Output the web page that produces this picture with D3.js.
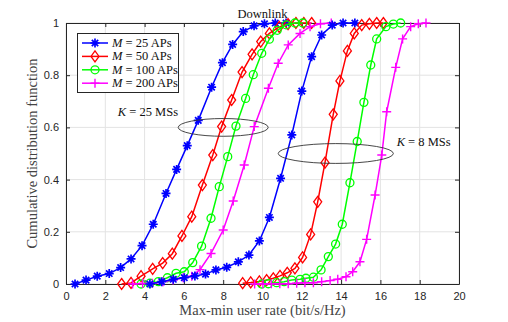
<!DOCTYPE html>
<html><head><meta charset="utf-8">
<script src="https://cdn.jsdelivr.net/npm/d3@7"></script>
<style>
body{margin:0;background:#fff;}
svg{display:block;}
</style></head>
<body>
<svg id="c" width="508" height="322"></svg>
<script>
// ---- data ----
const xTicks = [0,2,4,6,8,10,12,14,16,18,20];
const yTicks = [0,0.2,0.4,0.6,0.8,1];
const yTickLabels = ["0","0.2","0.4","0.6","0.8","1"];
const seriesM = ["25","50","100","200"];
const colors = ["#0000ff","#ff0000","#00ff00","#ff00ff"];
const markers = ["asterisk","diamond","circle","plus"];

// K = 25 MSs
const k25_m25_x = [0.46,1.02,1.59,2.2,2.78,3.31,3.87,4.44,5.09,5.63,6.17,6.73,7.41,7.96,8.48,9.02,9.57,10.1,10.65,11.2];
const k25_m25_y = [0,0.015,0.03,0.04,0.063,0.096,0.147,0.229,0.347,0.439,0.53,0.627,0.754,0.848,0.918,0.967,0.989,0.997,1,1];
const k25_m50_x = [2.83,3.31,3.82,4.41,4.92,5.41,5.9,6.4,6.94,7.47,7.92,8.43,8.96,9.47,9.91,10.35,10.85,11.3,11.7,12.1,12.5];
const k25_m50_y = [0,0.004,0.03,0.058,0.08,0.116,0.184,0.258,0.379,0.494,0.603,0.705,0.812,0.88,0.929,0.96,0.985,0.996,1,1,1];
const k25_m100_x = [3.82,4.27,4.7,5.16,5.6,6.02,6.45,6.9,7.38,7.8,8.23,8.65,9.14,9.53,9.96,10.35,10.75,11.2,11.65,12.05];
const k25_m100_y = [0,0.003,0.009,0.024,0.041,0.047,0.082,0.145,0.252,0.373,0.488,0.605,0.711,0.802,0.884,0.938,0.972,0.993,1,1];
const k25_m200_x = [3.39,3.9,4.4,4.94,5.45,5.96,6.4,6.82,7.38,8.0,8.51,9.07,9.58,10.3,10.8,11.31,11.91,12.42,12.95,13.5];
const k25_m200_y = [0,0.002,0.003,0.009,0.015,0.024,0.03,0.055,0.117,0.207,0.318,0.456,0.603,0.75,0.846,0.916,0.96,0.986,0.997,1];

// K = 8 MSs
const k8_m25_x = [4.27,4.87,5.46,6.02,6.56,7.1,7.63,8.18,8.77,9.31,9.84,10.35,10.92,11.49,12.0,12.5,13.01,13.55,14.1,14.7];
const k8_m25_y = [0,0.009,0.018,0.024,0.031,0.038,0.054,0.064,0.085,0.111,0.165,0.255,0.405,0.571,0.739,0.871,0.954,0.992,1,1];
const k8_m50_x = [8.99,9.4,9.84,10.21,10.55,10.89,11.26,11.65,12.04,12.45,12.81,13.18,13.6,13.94,14.32,14.67,15.05,15.44,15.81,16.15];
const k8_m50_y = [0.003,0.006,0.01,0.015,0.022,0.031,0.043,0.06,0.102,0.19,0.315,0.465,0.65,0.778,0.893,0.96,0.992,0.997,1,1];
const k8_m100_x = [9.96,10.3,10.72,11.1,11.49,11.91,12.21,12.59,12.98,13.35,13.72,14.06,14.45,14.82,15.16,15.51,15.81,16.28,16.66,17.03];
const k8_m100_y = [0,0.001,0.005,0.009,0.015,0.018,0.022,0.026,0.054,0.105,0.153,0.229,0.388,0.546,0.696,0.839,0.939,0.986,0.996,1];
const k8_m200_x = [9.6,10.02,10.45,10.88,11.31,11.74,12.16,12.59,13.01,13.44,13.83,14.25,14.59,14.96,15.3,15.73,16.07,16.32,16.78,17.13,17.54,17.93,18.32];
const k8_m200_y = [0,0,0.001,0.001,0.001,0.003,0.005,0.005,0.009,0.013,0.018,0.028,0.047,0.085,0.171,0.341,0.494,0.66,0.83,0.939,0.986,0.997,1];

const curves = [
  {x:k25_m25_x, y:k25_m25_y, s:0},{x:k25_m50_x, y:k25_m50_y, s:1},
  {x:k25_m100_x, y:k25_m100_y, s:2},{x:k25_m200_x, y:k25_m200_y, s:3},
  {x:k8_m25_x, y:k8_m25_y, s:0},{x:k8_m50_x, y:k8_m50_y, s:1},
  {x:k8_m100_x, y:k8_m100_y, s:2},{x:k8_m200_x, y:k8_m200_y, s:3}
];
// ellipses: [cx, cy, rx, ry] in data units
const ellipseK25 = [8.0, 0.6, 2.29, 0.034];
const ellipseK8 = [13.73, 0.5, 2.93, 0.038];
const labelK25 = {k:"K", rest:" = 25 MSs", x:4.17, y:0.643};
const labelK8 = {k:"K", rest:" = 8 MSs", x:18.2, y:0.527};

// ---- layout ----
const L=66, R=459, T=23, B=284;
const serif = "'Liberation Serif','DejaVu Serif',serif";
const sans = "'Liberation Sans',Arial,sans-serif";
const axisCol = "#262626";
const svg = d3.select("#c");
const x = d3.scaleLinear().domain([0,20]).range([L,R]);
const y = d3.scaleLinear().domain([0,1]).range([B,T]);

// grid
const g = svg.append("g");
g.selectAll(".gx").data(xTicks).join("line")
  .attr("x1",d=>x(d)).attr("x2",d=>x(d)).attr("y1",T).attr("y2",B)
  .attr("stroke","#e3e3e3").attr("stroke-width",1);
g.selectAll(".gy").data(yTicks).join("line")
  .attr("y1",d=>y(d)).attr("y2",d=>y(d)).attr("x1",L).attr("x2",R)
  .attr("stroke","#e3e3e3").attr("stroke-width",1);

// axes
const xAxis = d3.axisBottom(x).tickValues(xTicks).tickSizeInner(-4).tickSizeOuter(0).tickPadding(8);
const yAxis = d3.axisLeft(y).tickValues(yTicks).tickFormat((d,i)=>yTickLabels[i]).tickSizeInner(-4).tickSizeOuter(0).tickPadding(7);
const gx = svg.append("g").attr("transform",`translate(0,${B})`).call(xAxis);
const gy = svg.append("g").attr("transform",`translate(${L},0)`).call(yAxis);
const gxT = svg.append("g").attr("transform",`translate(0,${T})`).call(d3.axisTop(x).tickValues(xTicks).tickSizeInner(-4).tickSizeOuter(0).tickFormat(""));
const gyR = svg.append("g").attr("transform",`translate(${R},0)`).call(d3.axisRight(y).tickValues(yTicks).tickSizeInner(-4).tickSizeOuter(0).tickFormat(""));
[gx,gy,gxT,gyR].forEach(a=>{
  a.select(".domain").attr("stroke",axisCol).attr("stroke-width",1);
  a.selectAll(".tick line").attr("stroke",axisCol);
  a.selectAll("text").attr("fill",axisCol).attr("font-family",sans).attr("font-size",11);
});

// marker drawing
function drawMarker(sel, type, color){
  if(type==="circle"){
    sel.append("circle").attr("r",4).attr("fill","none").attr("stroke",color).attr("stroke-width",1.3);
  } else if(type==="diamond"){
    sel.append("path").attr("d","M0,-5.5L4,0L0,5.5L-4,0Z").attr("fill","none").attr("stroke",color).attr("stroke-width",1.3);
  } else if(type==="plus"){
    sel.append("path").attr("d","M-4.5,0H4.5M0,-4.5V4.5").attr("stroke",color).attr("stroke-width",1.4);
  } else {
    sel.append("path").attr("d","M-4.5,0H4.5M0,-4.5V4.5M-3.2,-3.2L3.2,3.2M-3.2,3.2L3.2,-3.2").attr("stroke",color).attr("stroke-width",1.7);
  }
}

// curves
const line = d3.line().x(d=>x(d[0])).y(d=>y(d[1]));
const plotG = svg.append("g");
curves.forEach(c=>{
  const pts = c.x.map((v,i)=>[v,c.y[i]]);
  const col = colors[c.s];
  plotG.append("path").datum(pts).attr("d",line).attr("fill","none").attr("stroke",col).attr("stroke-width",1.5);
  pts.forEach(p=>{
    const m = plotG.append("g").attr("transform",`translate(${x(p[0])},${y(p[1])})`);
    drawMarker(m, markers[c.s], col);
  });
});

// ellipses
[ellipseK25, ellipseK8].forEach(e=>{
  svg.append("ellipse").attr("cx",x(e[0])).attr("cy",y(e[1]))
    .attr("rx",x(e[2])-x(0)).attr("ry",y(0)-y(e[3]))
    .attr("fill","none").attr("stroke","#333").attr("stroke-width",0.9);
});
[labelK25,labelK8].forEach(l=>{
  const t = svg.append("text").attr("x",x(l.x)).attr("y",y(l.y)).attr("text-anchor","middle")
    .attr("font-family",serif).attr("font-size",12.5).attr("fill","#111");
  t.append("tspan").attr("font-style","italic").text(l.k);
  t.append("tspan").text(l.rest);
});

// legend
const lg = svg.append("g");
lg.append("rect").attr("x",77.5).attr("y",33.5).attr("width",101).attr("height",59)
  .attr("fill","#fff").attr("stroke",axisCol).attr("stroke-width",1);
seriesM.forEach((n,i)=>{
  const yy = 43 + i*13.4;
  lg.append("line").attr("x1",82).attr("x2",108).attr("y1",yy).attr("y2",yy).attr("stroke",colors[i]).attr("stroke-width",1.5);
  const m = lg.append("g").attr("transform",`translate(95,${yy})`);
  drawMarker(m, markers[i], colors[i]);
  const t = lg.append("text").attr("x",112).attr("y",yy+4).attr("font-family",serif).attr("font-size",12.5).attr("fill","#111");
  t.append("tspan").attr("font-style","italic").text("M");
  t.append("tspan").text(" = " + n + " APs");
});

// titles
svg.append("text").attr("x",(L+R)/2).attr("y",18).attr("text-anchor","middle")
  .attr("font-family",serif).attr("font-size",12.5).attr("fill","#111").text("Downlink");
svg.append("text").attr("x",(L+R)/2).attr("y",315).attr("text-anchor","middle")
  .attr("font-family",serif).attr("font-size",14.5).attr("fill","#444").text("Max-min user rate (bit/s/Hz)");
svg.append("text").attr("transform",`translate(37,${(T+B)/2}) rotate(-90)`).attr("text-anchor","middle")
  .attr("font-family",serif).attr("font-size",14.5).attr("fill","#444").text("Cumulative distribution function");
</script>
</body></html>
